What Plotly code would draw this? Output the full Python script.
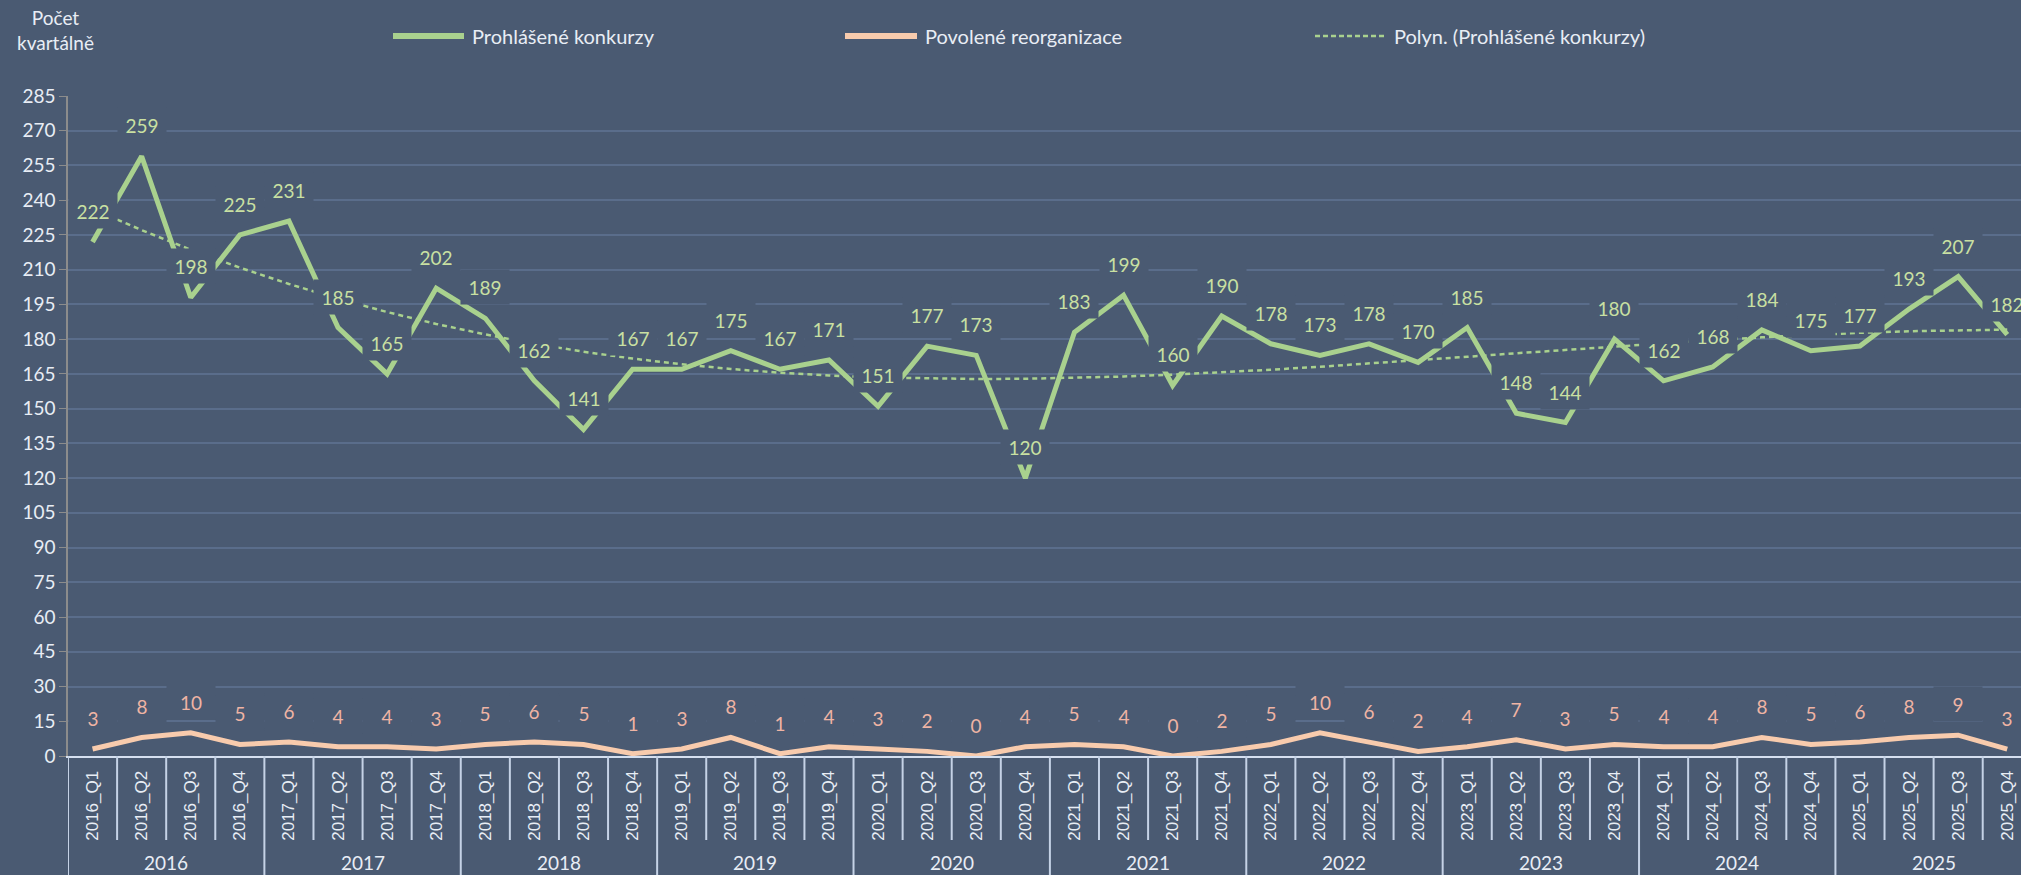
import numpy as np
import plotly.graph_objects as go

years = ["2016", "2017", "2018", "2019", "2020", "2021", "2022", "2023", "2024", "2025"]
quarter_suffixes = ["Q1", "Q2", "Q3", "Q4"]
categories = [f"{y}_{q}" for y in years for q in quarter_suffixes]

konkurzy = [222, 259, 198, 225,
            231, 185, 165, 202,
            189, 162, 141, 167,
            167, 175, 167, 171,
            151, 177, 173, 120,
            183, 199, 160, 190,
            178, 173, 178, 170,
            185, 148, 144, 180,
            162, 168, 184, 175,
            177, 193, 207, 182]

reorganizace = [3, 8, 10, 5,
                6, 4, 4, 3,
                5, 6, 5, 1,
                3, 8, 1, 4,
                3, 2, 0, 4,
                5, 4, 0, 2,
                5, 10, 6, 2,
                4, 7, 3, 5,
                4, 4, 8, 5,
                6, 8, 9, 3]

y_ticks = list(range(0, 286, 15))

name_k = "Prohlášené konkurzy"
name_r = "Povolené reorganizace"
name_t = "Polyn. (Prohlášené konkurzy)"
axis_title = "Počet<br>kvartálně"

# Polynomial trendline (Excel "Polyn." trendline = least-squares polynomial of the series)
idx = np.arange(len(konkurzy))
coef = np.polyfit(idx, konkurzy, 3)
trend = np.polyval(coef, idx)

BG = "#4A5A72"
GRID = "#5A6D8B"
GREEN = "#A9D18E"
PEACH = "#F8CBAD"
GREEN_LBL = "#C9E0A2"
PEACH_LBL = "#EFB4A4"
TXT = "#E8EDF5"
FONT = "Lato"

W, H = 2021, 875
ML, MR, MT, MB = 68, 0, 96, 119
PW = W - ML - MR
PH = H - MT - MB


def px2paper_x(px):
    return (px - ML) / PW


def px2paper_y(py):
    return (H - MB - py) / PH


fig = go.Figure()
fig.add_trace(go.Scatter(x=categories, y=reorganizace, mode="lines", name=name_r,
                         line=dict(color=PEACH, width=5), showlegend=False))
fig.add_trace(go.Scatter(x=categories, y=konkurzy, mode="lines", name=name_k,
                         line=dict(color=GREEN, width=5), showlegend=False))
fig.add_trace(go.Scatter(x=categories, y=trend, mode="lines", name=name_t,
                         line=dict(color=GREEN, width=2.5, dash="5px,4px"), showlegend=False))

annotations = []
for c, v in zip(categories, konkurzy):
    annotations.append(dict(x=c, y=v, xref="x", yref="y", text=str(v), showarrow=False,
                            yshift=31, width=46, height=32, bgcolor=BG,
                            font=dict(family=FONT, size=19, color=GREEN_LBL)))
for c, v in zip(categories, reorganizace):
    annotations.append(dict(x=c, y=v, xref="x", yref="y", text=str(v), showarrow=False,
                            yshift=31, width=46, height=32, bgcolor=BG,
                            font=dict(family=FONT, size=19, color=PEACH_LBL)))

shapes = []
n = len(categories)
for i in range(n + 1):
    is_year = (i % 4 == 0)
    shapes.append(dict(type="line", xref="x", yref="paper",
                       x0=i - 0.5, x1=i - 0.5, y0=0,
                       y1=px2paper_y(875 if is_year else 840),
                       line=dict(color="#C5D2E6", width=2)))
for k, y in enumerate(years):
    annotations.append(dict(x=4 * k + 1.5, y=px2paper_y(862), xref="x", yref="paper",
                            text=y, showarrow=False, yanchor="middle",
                            font=dict(family=FONT, size=19, color=TXT)))

# axis title
annotations.append(dict(x=px2paper_x(55), y=px2paper_y(30), xref="paper", yref="paper",
                        text=axis_title, showarrow=False, align="center",
                        xanchor="center", yanchor="middle",
                        font=dict(family=FONT, size=19, color=TXT)))

# custom legend
legend_items = [
    (name_k, 393, 464, 470, dict(color=GREEN, width=6)),
    (name_r, 845, 917, 923, dict(color=PEACH, width=6)),
    (name_t, 1315, 1386, 1392, dict(color=GREEN, width=2.5, dash="5px,3px")),
]
ly = px2paper_y(36)
for text, x0, x1, tx, ln in legend_items:
    shapes.append(dict(type="line", xref="paper", yref="paper",
                       x0=px2paper_x(x0), x1=px2paper_x(x1), y0=ly, y1=ly, line=ln))
    annotations.append(dict(x=px2paper_x(tx), y=ly, xref="paper", yref="paper",
                            text=text, showarrow=False, xanchor="left", yanchor="middle",
                            font=dict(family=FONT, size=20, color=TXT)))

fig.update_layout(
    width=W, height=H,
    margin=dict(l=ML, r=MR, t=MT, b=MB, pad=0),
    paper_bgcolor=BG, plot_bgcolor=BG,
    showlegend=False,
    annotations=annotations,
    shapes=shapes,
    xaxis=dict(type="category", categoryorder="array", categoryarray=categories,
               range=[-0.5, (W - ML) / (PW / 39.78) - 0.5],
               showgrid=False, zeroline=False,
               showline=True, linecolor="#D6E0F0", linewidth=2,
               ticks="", tickangle=-90, ticklabelstandoff=6,
               tickfont=dict(family="Liberation Sans", size=17, color=TXT)),
    yaxis=dict(range=[0, 285], tickvals=y_ticks,
               showgrid=True, gridcolor=GRID, gridwidth=1.5, zeroline=False,
               showline=True, linecolor="#8C8C8C", linewidth=1.5,
               ticks="outside", ticklen=7, tickcolor="#8C8C8C",
               tickfont=dict(family=FONT, size=19, color=TXT)),
)

fig.write_html("out.html", config={"displayModeBar": False},
               post_script="document.body.style.margin='0';document.body.style.overflow='hidden';")
